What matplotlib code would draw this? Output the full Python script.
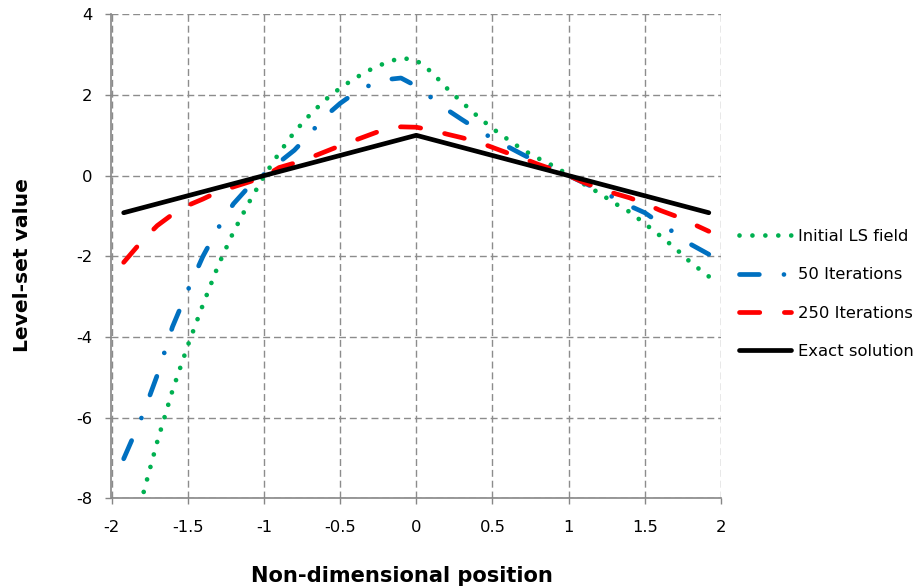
import matplotlib
matplotlib.use("Agg")
import matplotlib.pyplot as plt
import numpy as np

plt.rcParams['font.family'] = ['DejaVu Sans']
plt.rcParams['lines.scale_dashes'] = False

# ---- data ----
x_pos = [-1.92, -1.8, -1.7, -1.6, -1.5, -1.4, -1.3, -1.2, -1.1, -1.0,
         -0.9, -0.8, -0.7, -0.6, -0.5, -0.4, -0.3, -0.2, -0.1, 0.0,
         0.1, 0.2, 0.3, 0.4, 0.5, 0.6, 0.7, 0.8, 0.9, 1.0,
         1.1, 1.2, 1.3, 1.4, 1.5, 1.6, 1.7, 1.8, 1.92]

initial_ls = [-9.7, -8.0, -6.6, -5.33, -4.22, -3.2, -2.23, -1.4, -0.68, -0.02,
              0.56, 1.08, 1.5, 1.87, 2.17, 2.42, 2.63, 2.8, 2.92, 2.86,
              2.57, 2.17, 1.82, 1.48, 1.17, 0.9, 0.64, 0.43, 0.24, 0.02,
              -0.21, -0.43, -0.68, -0.9, -1.19, -1.49, -1.8, -2.15, -2.5]

iter_50 = [-7.02, -5.98, -4.95, -3.75, -2.85, -2.0, -1.3, -0.7, -0.28, 0.03,
           0.33, 0.63, 1.03, 1.46, 1.79, 2.06, 2.25, 2.38, 2.42, 2.22,
           1.93, 1.64, 1.39, 1.15, 0.92, 0.72, 0.52, 0.33, 0.16, 0.0,
           -0.18, -0.35, -0.55, -0.75, -0.92, -1.18, -1.43, -1.7, -1.95]

iter_250 = [-2.15, -1.62, -1.24, -0.96, -0.74, -0.58, -0.4, -0.28, -0.16, -0.03,
            0.2, 0.31, 0.44, 0.59, 0.74, 0.88, 1.02, 1.16, 1.21, 1.2,
            1.13, 1.03, 0.94, 0.84, 0.7, 0.56, 0.43, 0.28, 0.15, 0.0,
            -0.17, -0.31, -0.44, -0.55, -0.69, -0.86, -1.0, -1.17, -1.38]

exact = [-0.92, -0.8, -0.7, -0.6, -0.5, -0.4, -0.3, -0.2, -0.1, 0.0,
         0.1, 0.2, 0.3, 0.4, 0.5, 0.6, 0.7, 0.8, 0.9, 1.0,
         0.9, 0.8, 0.7, 0.6, 0.5, 0.4, 0.3, 0.2, 0.1, 0.0,
         -0.1, -0.2, -0.3, -0.4, -0.5, -0.6, -0.7, -0.8, -0.92]

series_labels = ["Initial LS field", "50 Iterations", "250 Iterations", "Exact solution"]
x_ticks = [-2, -1.5, -1, -0.5, 0, 0.5, 1, 1.5, 2]
x_tick_labels = ["-2", "-1.5", "-1", "-0.5", "0", "0.5", "1", "1.5", "2"]
y_ticks = [-8, -6, -4, -2, 0, 2, 4]
y_tick_labels = ["-8", "-6", "-4", "-2", "0", "2", "4"]

# ---- figure ----
W, H = 920, 587
fig = plt.figure(figsize=(W / 100, H / 100), dpi=100)
ax = fig.add_axes([111.5 / W, 1 - 498.3 / H, (721 - 111.5) / W, (498.3 - 14.3) / H])

lw = 3.4
ax.plot(x_pos, initial_ls, color="#00B050", lw=lw, linestyle=(0, (0.01, 9.3)),
        dash_capstyle="round", label=series_labels[0], zorder=3)
ax.plot(x_pos, iter_50, color="#0070C0", lw=lw, linestyle=(0, (14.3, 17.7, 0.01, 17.7)),
        dash_capstyle="round", label=series_labels[1], zorder=4)
ax.plot(x_pos, iter_250, color="#FF0000", lw=lw, linestyle=(0, (14.6, 17.7)),
        dash_capstyle="round", label=series_labels[2], zorder=5)
ax.plot(x_pos, exact, color="black", lw=lw, solid_capstyle="round",
        solid_joinstyle="round", label=series_labels[3], zorder=6)

ax.set_xlim(-2, 2)
ax.set_ylim(-8, 4)
ax.set_xticks(x_ticks)
ax.set_xticklabels(x_tick_labels)
ax.set_yticks(y_ticks)
ax.set_yticklabels(y_tick_labels)

grid_col = "#8c8c8c"
ax.grid(True, color=grid_col, linestyle=(0, (5, 2.8)), linewidth=1.0, zorder=0)
ax.set_axisbelow(True)
for s in ["top", "right"]:
    ax.spines[s].set_visible(False)
for s in ["left", "bottom"]:
    ax.spines[s].set_color("#868686")
    ax.spines[s].set_linewidth(1.2)
ax.tick_params(axis="both", direction="out", length=4.3, width=1.0, color="#868686",
               labelsize=11.8, labelcolor="black")
ax.tick_params(axis="y", pad=9.3)
ax.tick_params(axis="x", pad=11)

fig.text(22.5 / W, 1 - 265 / H, "Level-set value", rotation=90, ha="center", va="center",
         fontsize=14.6, fontweight="bold")
fig.text(401.5 / W, 1 - 582 / H, "Non-dimensional position", ha="center", va="baseline",
         fontsize=15.1, fontweight="bold")

leg = ax.legend(loc="upper left", bbox_to_anchor=(739 / W, 1 - 229 / H),
                bbox_transform=fig.transFigure, frameon=False, fontsize=11.8,
                handlelength=3.18, handletextpad=0.4, labelspacing=1.42,
                borderpad=0, borderaxespad=0)

fig.savefig("out.png", dpi=100)
